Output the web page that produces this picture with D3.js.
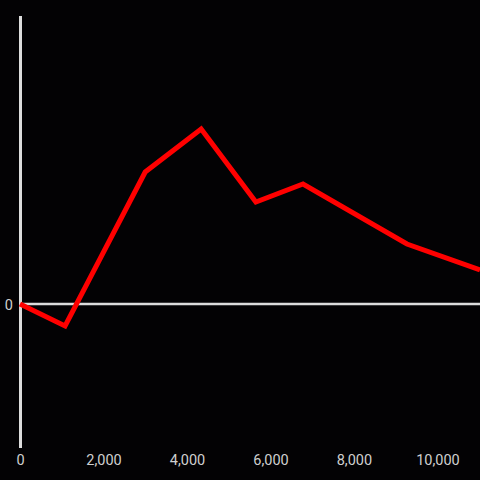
<!DOCTYPE html>
<html>
<head>
<meta charset="utf-8">
<script src="https://cdn.jsdelivr.net/npm/d3@7"></script>
<style>
  html, body { margin: 0; padding: 0; background: #030204; }
  svg { display: block; }
</style>
</head>
<body>
<script>
const xValues = [0, 1080, 3000, 4340, 5650, 6780, 9270, 11020];
const yValues = [0, -22, 132, 175, 102, 120, 60, 34];
const xTicks = [0, 2000, 4000, 6000, 8000, 10000];
const yTicks = [0];

const width = 480, height = 480;
const marginLeft = 20, plotTop = 16, plotBottom = 448;

const svg = d3.select('body').append('svg')
    .attr('width', width)
    .attr('height', height)
    .style('background', '#030204');

const x = d3.scaleLinear().domain([0, 11020]).range([marginLeft, width]);
const y = d3.scaleLinear().domain([-144, 288]).range([plotBottom, plotTop]);

// y axis line
svg.append('line')
    .attr('x1', x(0) + 0.5).attr('x2', x(0) + 0.5)
    .attr('y1', plotTop).attr('y2', plotBottom)
    .attr('stroke', '#dcdcdc').attr('stroke-width', 3);

// zero line
svg.append('line')
    .attr('x1', marginLeft).attr('x2', width)
    .attr('y1', y(0)).attr('y2', y(0))
    .attr('stroke', '#dcdcdc').attr('stroke-width', 2.5);

const xAxis = d3.axisBottom(x)
    .tickValues(xTicks)
    .tickSize(0)
    .tickPadding(0)
    .tickFormat(d3.format(','));

svg.append('g')
    .attr('transform', `translate(0,${plotBottom + 7})`)
    .call(xAxis)
    .call(g => g.select('.domain').remove())
    .call(g => g.selectAll('text')
        .attr('fill', '#cfcfcf')
        .style('font-family', 'Roboto, sans-serif')
        .style('font-size', '14.5px'));

const yAxis = d3.axisLeft(y)
    .tickValues(yTicks)
    .tickSize(0)
    .tickPadding(4);

svg.append('g')
    .attr('transform', `translate(${marginLeft - 3},0.5)`)
    .call(yAxis)
    .call(g => g.select('.domain').remove())
    .call(g => g.selectAll('text')
        .attr('fill', '#cfcfcf')
        .style('font-family', 'Roboto, sans-serif')
        .style('font-size', '14.5px'));

const line = d3.line()
    .x((d, i) => x(xValues[i]))
    .y(d => y(d));

svg.append('path')
    .datum(yValues)
    .attr('d', line)
    .attr('fill', 'none')
    .attr('stroke', '#ff0000')
    .attr('stroke-width', 5)
    .attr('stroke-linejoin', 'miter');
</script>
</body>
</html>
